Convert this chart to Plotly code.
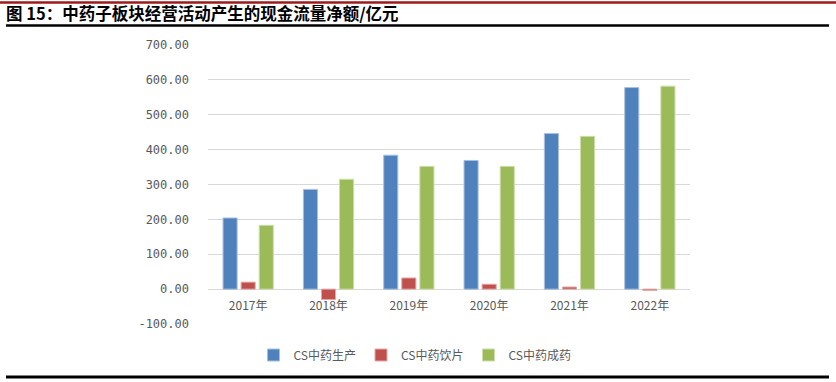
import plotly.graph_objects as go

years = ["2017年", "2018年", "2019年", "2020年", "2021年", "2022年"]
prod = [204, 286, 384, 369, 446, 578]
yinpian = [20, -30, 32, 14, 6, -4]
chengyao = [183, 315, 352, 352, 438, 582]
series_names = ["CS中药生产", "CS中药饮片", "CS中药成药"]
colors = ["#4F81BD", "#C0504D", "#9BBB59"]
edge_colors = ["#A7C0DE", "#E3A9A7", "#CDDDAC"]
yticks = [-100, 0, 100, 200, 300, 400, 500, 600, 700]

W, H = 836, 382
L, R, T, B = 208, 690, 45, 324

fig = go.Figure()
for name, vals, c, ec in zip(series_names, [prod, yinpian, chengyao], colors, edge_colors):
    fig.add_trace(go.Bar(x=years, y=vals, name=name,
                         marker=dict(color=c, line=dict(color=ec, width=1))))

def px(x):
    return (x - L) / (R - L)

def py(y):
    return (B - y) / (B - T)

shapes = [
    dict(type="line", xref="paper", yref="paper", x0=px(0), x1=px(836), y0=py(2.5), y1=py(2.5),
         line=dict(color="#9B1B1B", width=2.5)),
    dict(type="line", xref="paper", yref="paper", x0=px(6), x1=px(829), y0=py(25.5), y1=py(25.5),
         line=dict(color="#000000", width=2.5)),
    dict(type="line", xref="paper", yref="paper", x0=px(6), x1=px(829), y0=py(377), y1=py(377),
         line=dict(color="#000000", width=3)),
]

fig.update_layout(
    width=W, height=H,
    margin=dict(l=L, r=W - R, t=T, b=H - B),
    paper_bgcolor="white", plot_bgcolor="white",
    barmode="group", bargap=0.325, bargroupgap=0.22,
    font=dict(family="Noto Sans CJK SC, Noto Sans, sans-serif", color="#595959", size=12),
    title=dict(text="<b>图 15：中药子板块经营活动产生的现金流量净额/亿元</b>",
               x=6 / W, xanchor="left", y=1 - 14 / H, yanchor="middle",
               font=dict(size=16.5, color="#000000", family="Noto Sans CJK SC, sans-serif")),
    yaxis=dict(range=[-100, 700], tickvals=yticks,
               ticktext=[f"{v:.2f}" for v in yticks],
               showgrid=True, gridcolor="#D9D9D9", gridwidth=1,
               zeroline=True, zerolinecolor="#D9D9D9", zerolinewidth=1,
               showline=False, ticks="", ticklabelstandoff=18,
               tickfont=dict(size=12, color="#595959", family="DejaVu Sans Mono, monospace")),
    xaxis=dict(anchor="free", position=py(289), showline=False, showgrid=False,
               ticks="", ticklabelstandoff=8, tickfont=dict(size=12, color="#595959")),
    legend=dict(orientation="h", x=px(415), xanchor="center", y=py(355), yanchor="middle",
                font=dict(size=12, color="#595959"), itemwidth=30,
                traceorder="normal"),
    shapes=shapes,
)

fig.write_html("out.html", config={"displayModeBar": False},
               post_script="document.body.style.margin='0';")
